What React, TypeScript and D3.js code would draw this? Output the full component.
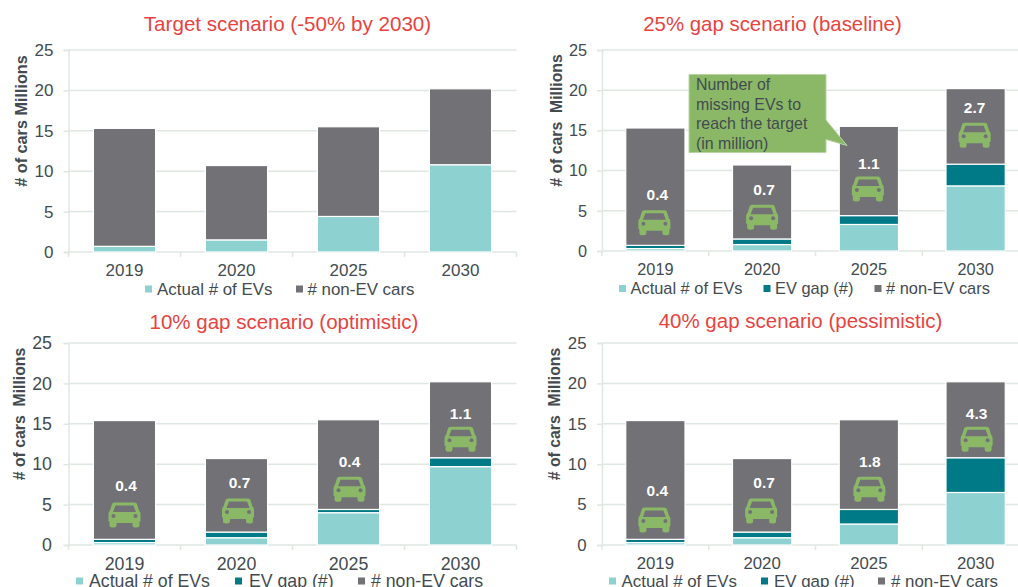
import React, { useEffect, useRef } from "react";
import * as d3 from "d3";

const years = ["2019", "2020", "2025", "2030"];
const yTicks = [0, 5, 10, 15, 20, 25];

const actualTarget = [0.7, 1.5, 4.4, 10.8];
const gapTarget = [0, 0, 0, 0];
const nonEvTarget = [14.6, 9.2, 11.1, 9.4];

const actualBase = [0.3, 0.8, 3.3, 8.1];
const gapBase = [0.4, 0.7, 1.1, 2.7];
const nonEvBase = [14.6, 9.2, 11.1, 9.4];

const actualOpt = [0.3, 0.9, 4.0, 9.7];
const gapOpt = [0.4, 0.7, 0.4, 1.1];
const nonEvOpt = [14.7, 9.1, 11.1, 9.4];

const actualPess = [0.3, 0.9, 2.6, 6.5];
const gapPess = [0.4, 0.7, 1.8, 4.3];
const nonEvPess = [14.7, 9.1, 11.1, 9.4];

const EV_COLOR = "#8dd1d1";
const GAP_COLOR = "#007a87";
const NON_COLOR = "#717176";
const GREEN = "#8ab867";
const GRID = "#dfe7e1";
const TEXT = "#434b50";
const FONT = "'Liberation Sans', Arial, sans-serif";

// car outline, centred on 0,0
const carBody =
  "M-10,-12.5 L10,-12.5 Q12,-12.5 12.5,-11 L14.5,-4.5 Q16,-3.5 16,-1 L16,6 L15,7 L15,10.5 Q15,12.5 12.5,12.5 L10.5,12.5 Q8,12.5 8,10.5 L8,8 L-8,8 L-8,10.5 Q-8,12.5 -10.5,12.5 L-12.5,12.5 Q-15,12.5 -15,10.5 L-15,7 L-16,6 L-16,-1 Q-16,-3.5 -14.5,-4.5 L-12.5,-11 Q-12,-12.5 -10,-12.5 Z " +
  "M-9,-9.5 L-11.5,-3 L11.5,-3 L9,-9.5 Z";

function Panel({ x0, x1, yTop, yBottom, title, titleX, titleY, titleSize, axisLabel, labelX, labelSize, tickSize, tickPad, actual, gap, nonEv, labels, carLevels, labelLevels, carDx, labelDx, legend, legendY, fs }) {
  const ref = useRef(null);

  useEffect(() => {
    const g = d3.select(ref.current);
    g.selectAll("*").remove();

    const x = d3.scaleBand().domain(years).range([x0, x1]).paddingInner(0.445).paddingOuter(0.2225);
    const y = d3.scaleLinear().domain([0, 25]).range([yBottom, yTop]);

    const rows = years.map((year, i) => ({ year, actual: actual[i], gap: gap[i], nonEv: nonEv[i] }));
    const stacked = d3.stack().keys(["actual", "gap", "nonEv"])(rows);
    const colors = { actual: EV_COLOR, gap: GAP_COLOR, nonEv: NON_COLOR };

    const yAxis = d3.axisLeft(y).tickValues(yTicks).tickSize(5).tickPadding(tickPad);
    const yG = g.append("g").attr("transform", `translate(${x0},0)`).call(yAxis);
    yG.select(".domain").attr("stroke", GRID).attr("stroke-width", 1.5);
    yG.selectAll("line").attr("stroke", GRID).attr("stroke-width", 1.5);
    yG.selectAll("text").attr("font-family", FONT).attr("font-size", tickSize).attr("fill", TEXT);

    g.append("g")
      .selectAll("line")
      .data(yTicks)
      .enter()
      .append("line")
      .attr("x1", x0)
      .attr("x2", x1)
      .attr("y1", (d) => y(d))
      .attr("y2", (d) => y(d))
      .attr("stroke", GRID)
      .attr("stroke-width", 1.5);

    const xAxis = d3.axisBottom(x).tickSize(0).tickPadding(12);
    const xG = g.append("g").attr("transform", `translate(0,${yBottom})`).call(xAxis);
    xG.select(".domain").remove();
    xG.selectAll("text").attr("font-family", FONT).attr("font-size", tickSize).attr("fill", TEXT);

    // category boundaries
    g.append("g")
      .selectAll("line")
      .data(d3.range(0, years.length + 1))
      .enter()
      .append("line")
      .attr("x1", (i) => x0 + i * x.step())
      .attr("x2", (i) => x0 + i * x.step())
      .attr("y1", yBottom)
      .attr("y2", yBottom + 5)
      .attr("stroke", GRID)
      .attr("stroke-width", 1.5);

    stacked.forEach((layer) => {
      g.append("g")
        .selectAll("rect")
        .data(layer.filter((d) => d[1] > d[0]))
        .enter()
        .append("rect")
        .attr("x", (d) => x(d.data.year))
        .attr("width", x.bandwidth())
        .attr("y", (d) => y(d[1]))
        .attr("height", (d) => y(d[0]) - y(d[1]))
        .attr("fill", colors[layer.key])
        .attr("stroke", "#fff")
        .attr("stroke-width", 1.2);
    });

    if (labels) {
      years.forEach((year, i) => {
        const cx = x(year) + x.bandwidth() / 2;
        g.append("path")
          .attr("d", carBody)
          .attr("fill-rule", "evenodd")
          .attr("fill", GREEN)
          .attr("transform", `translate(${cx + carDx[i]},${y(carLevels[i])})`);
        g.append("circle").attr("cx", cx + carDx[i] - 11).attr("cy", y(carLevels[i]) + 1).attr("r", 2).attr("fill", NON_COLOR);
        g.append("circle").attr("cx", cx + carDx[i] + 11).attr("cy", y(carLevels[i]) + 1).attr("r", 2).attr("fill", NON_COLOR);
        g.append("text")
          .attr("x", cx + labelDx[i])
          .attr("y", y(labelLevels[i]))
          .attr("dy", "0.36em")
          .attr("text-anchor", "middle")
          .attr("font-family", FONT)
          .attr("font-size", 15.5)
          .attr("font-weight", 700)
          .attr("fill", "#fff")
          .text(labels[i]);
      });
    }
  }, []);

  return (
    <g fontFamily={FONT}>
      <g ref={ref} />
      <text x={titleX} y={titleY} textAnchor="middle" fontSize={titleSize} fill="#e8433f" dy="0.35em">
        {title}
      </text>
      <text
        transform={`translate(${labelX},${(yTop + yBottom) / 2 - 30}) rotate(-90)`}
        textAnchor="middle"
        fontSize={labelSize}
        fontWeight={700}
        fill={TEXT}
        xmlSpace="preserve"
      >
        {axisLabel}
      </text>
      {legend.map((item) => (
        <g key={item.name}>
          <rect x={item.sx} y={legendY - 3.5} width={7} height={7} fill={item.color} />
          <text x={item.tx} y={legendY} dy="0.35em" fontSize={fs} fill={TEXT}>
            {item.name}
          </text>
        </g>
      ))}
    </g>
  );
}

export default function App() {
  return (
    <svg width={1018} height={587} style={{ position: "absolute", left: 0, top: 0, background: "#fff" }}>
      <Panel
        x0={68.5}
        x1={516.5}
        yTop={50}
        yBottom={252}
        title="Target scenario (-50% by 2030)"
        titleX={287.5}
        titleY={24}
        titleSize={20.6}
        axisLabel="# of cars Millions"
        labelX={27}
        labelSize={16.2}
        tickSize={17}
        tickPad={10}
        actual={actualTarget}
        gap={gapTarget}
        nonEv={nonEvTarget}
        legendY={289}
        fs={16.9}
        legend={[
          { name: "Actual # of EVs", color: EV_COLOR, sx: 145, tx: 157 },
          { name: "# non-EV cars", color: NON_COLOR, sx: 296, tx: 307.5 },
        ]}
      />
      <Panel
        x0={602}
        x1={1029}
        yTop={50}
        yBottom={251}
        title="25% gap scenario (baseline)"
        titleX={772.5}
        titleY={24}
        titleSize={20.4}
        axisLabel="# of cars  Millions"
        labelX={562}
        labelSize={15.8}
        tickSize={16.3}
        tickPad={10}
        actual={actualBase}
        gap={gapBase}
        nonEv={nonEvBase}
        labels={["0.4", "0.7", "1.1", "2.7"]}
        carLevels={[3.5, 4.2, 7.7, 14.4]}
        labelLevels={[7.0, 7.7, 10.9, 17.8]}
        carDx={[-1, 0, -1, -1]}
        labelDx={[2, 2, 0, -1]}
        legendY={288.5}
        fs={16.4}
        legend={[
          { name: "Actual # of EVs", color: EV_COLOR, sx: 619, tx: 630.5 },
          { name: "EV gap (#)", color: GAP_COLOR, sx: 763.5, tx: 775 },
          { name: "# non-EV cars", color: NON_COLOR, sx: 874.5, tx: 886 },
        ]}
      />
      <Panel
        x0={68.5}
        x1={516.5}
        yTop={343}
        yBottom={545}
        title="10% gap scenario (optimistic)"
        titleX={284}
        titleY={322}
        titleSize={20.5}
        axisLabel="# of cars  Millions"
        labelX={24.5}
        labelSize={15.8}
        tickSize={17.8}
        tickPad={11.5}
        actual={actualOpt}
        gap={gapOpt}
        nonEv={nonEvOpt}
        labels={["0.4", "0.7", "0.4", "1.1"]}
        carLevels={[3.7, 4.2, 6.9, 13.1]}
        labelLevels={[7.4, 7.7, 10.3, 16.3]}
        carDx={[0, 1.5, 1, 0]}
        labelDx={[1.5, 3, 1, 0]}
        legendY={581}
        fs={17.7}
        legend={[
          { name: "Actual # of EVs", color: EV_COLOR, sx: 76, tx: 89 },
          { name: "EV gap (#)", color: GAP_COLOR, sx: 235, tx: 249 },
          { name: "# non-EV cars", color: NON_COLOR, sx: 358, tx: 371 },
        ]}
      />
      <Panel
        x0={602}
        x1={1029}
        yTop={343}
        yBottom={545}
        title="40% gap scenario (pessimistic)"
        titleX={800.5}
        titleY={321}
        titleSize={20.5}
        axisLabel="# of cars  Millions"
        labelX={559.5}
        labelSize={15.8}
        tickSize={16.8}
        tickPad={10.5}
        actual={actualPess}
        gap={gapPess}
        nonEv={nonEvPess}
        labels={["0.4", "0.7", "1.8", "4.3"]}
        carLevels={[3.1, 4.2, 6.9, 13.1]}
        labelLevels={[6.7, 7.8, 10.3, 16.3]}
        carDx={[-1, -1, 0.5, 1]}
        labelDx={[2, 2, 1, 1]}
        legendY={581}
        fs={16.9}
        legend={[
          { name: "Actual # of EVs", color: EV_COLOR, sx: 609, tx: 621.5 },
          { name: "EV gap (#)", color: GAP_COLOR, sx: 761, tx: 774 },
          { name: "# non-EV cars", color: NON_COLOR, sx: 878, tx: 891 },
        ]}
      />
      {/* callout for the baseline panel */}
      <path d="M689,74.5 H826 V120 L847,145.5 L826,139.5 V152.5 H689 Z" fill={GREEN} stroke="#b9d4a3" strokeWidth={1} />
      <g fontFamily={FONT} fontSize={15.9} fill={TEXT}>
        <text x={696} y={89.5}>Number of</text>
        <text x={696} y={110}>missing EVs to</text>
        <text x={696} y={129}>reach the target</text>
        <text x={696} y={149}>(in million)</text>
      </g>
    </svg>
  );
}
